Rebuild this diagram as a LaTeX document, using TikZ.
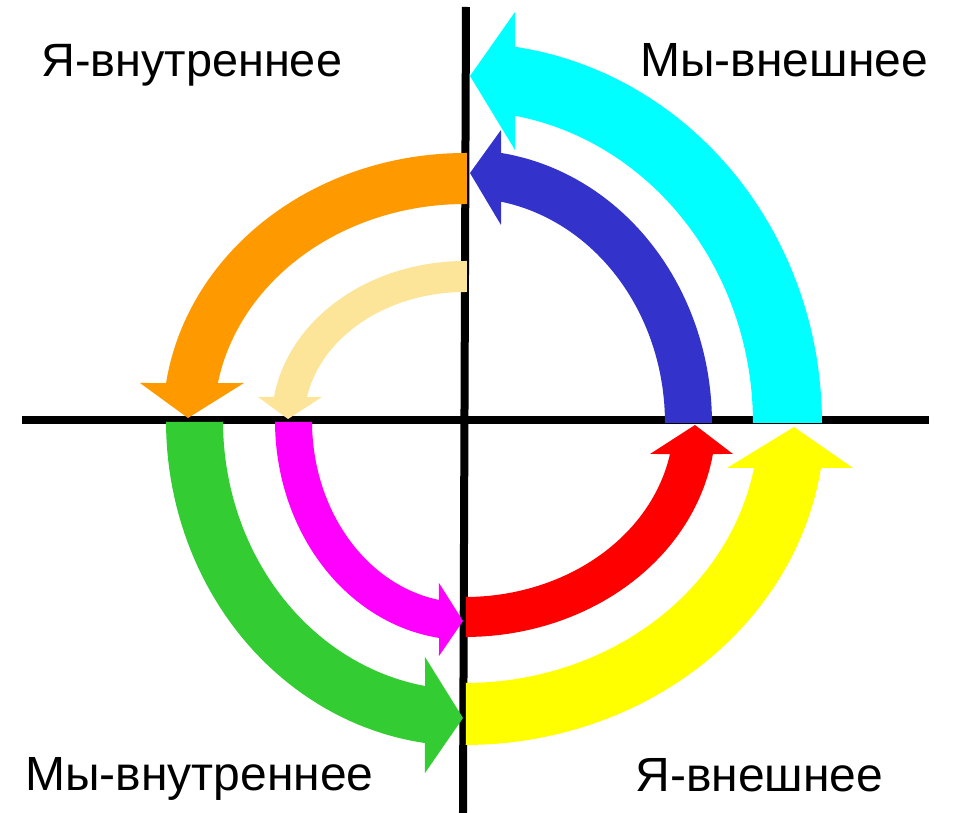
\documentclass[tikz,border=0pt]{standalone}
\usepackage{fontspec}
\setmainfont{Liberation Sans}
\definecolor{cyanc}{HTML}{00FFFF}
\definecolor{bluec}{HTML}{3333CC}
\definecolor{orangec}{HTML}{FF9900}
\definecolor{wheatc}{HTML}{FCE599}
\definecolor{greenc}{HTML}{33CC33}
\definecolor{magc}{HTML}{FF00FF}
\definecolor{redc}{HTML}{FF0000}
\definecolor{yellowc}{HTML}{FFFF00}
\begin{document}
\begin{tikzpicture}[x=0.5pt,y=0.5pt,
  axis/.style={line width=4pt, line cap=butt, black},
  band/.style={draw=none},
  lbl/.style={inner sep=0pt, anchor=base west, font=\fontsize{24}{28}\selectfont}]
\useasboundingbox (-465,-392) rectangle (489,421);
% axes
\coordinate (hl) at (-443,0.5);
\coordinate (hr) at (464,0.5);
\coordinate (vt) at (1,414);
\coordinate (vb) at (-2,-392);
\draw[axis] (hl) -- (hr);
\draw[axis] (vt) -- (vb);
% cyan (upper right, outer)
\fill[band, cyanc, yshift=-1pt] (357,0)
  -- plot[domain=0:81.95, samples=50, variable=\t] ({357*cos(\t)},{380*sin(\t)})
  -- (50,411) -- (5,347) -- (50,273)
  -- plot[domain=80:0, samples=50, variable=\t] ({288*cos(\t)},{312*sin(\t)}) -- cycle;
% blue (upper right, inner)
\fill[band, bluec, yshift=-1pt] (247,0)
  -- plot[domain=0:81.6, samples=50, variable=\t] ({247*cos(\t)},{273*sin(\t)})
  -- (36,293) -- (5,250) -- (36,198)
  -- plot[domain=79.6:0, samples=50, variable=\t] ({200*cos(\t)},{225*sin(\t)}) -- cycle;
% orange (upper left, outer)
\fill[band, orangec] (2,268)
  -- plot[domain=90:171.85, samples=50, variable=\t] ({302*cos(\t)},{268*sin(\t)})
  -- (-325,38) -- (-277,3) -- (-221,38)
  -- plot[domain=169.92:90, samples=50, variable=\t] ({251*cos(\t)},{217*sin(\t)})
  -- (2,217) -- cycle;
% wheat (upper left, inner)
\fill[band, wheatc] (2,160)
  -- plot[domain=90:171.37, samples=50, variable=\t] ({193.2*cos(\t)},{160*sin(\t)})
  -- (-207,24) -- (-177,2) -- (-143,24)
  -- plot[domain=169.28:90, samples=50, variable=\t] ({160.8*cos(\t)},{129*sin(\t)})
  -- (2,129) -- cycle;
% green (lower left, outer)
\fill[band, greenc] (-299,-1)
  -- plot[domain=180:262.31, samples=50, variable=\t] ({299*cos(\t)},{325*sin(\t)})
  -- (-40,-352) -- (-2,-297) -- (-40,-236)
  -- plot[domain=260.49:180, samples=50, variable=\t] ({242*cos(\t)},{268.7*sin(\t)})
  -- (-242,-1) -- cycle;
% magenta (lower left, inner)
\fill[band, magc] (-190,-1)
  -- plot[domain=180:262.14, samples=50, variable=\t] ({190*cos(\t)},{219*sin(\t)})
  -- (-26,-235) -- (-2,-200) -- (-26,-162)
  -- plot[domain=260.21:180, samples=50, variable=\t] ({153*cos(\t)},{181.6*sin(\t)})
  -- (-153,-1) -- cycle;
% red (lower right, inner)
\fill[band, redc] (1,-216)
  -- plot[domain=270:351.21, samples=50, variable=\t] ({250.9*cos(\t)},{216*sin(\t)})
  -- (268,-33) -- (230,-4) -- (185,-33)
  -- plot[domain=349.19:270, samples=50, variable=\t] ({208.7*cos(\t)},{176*sin(\t)})
  -- (1,-176) -- cycle;
% yellow (lower right, outer)
\fill[band, yellowc] (1,-324)
  -- plot[domain=270:351.66, samples=50, variable=\t] ({359.8*cos(\t)},{324*sin(\t)})
  -- (388,-47) -- (329,-6) -- (262,-47)
  -- plot[domain=349.67:270, samples=50, variable=\t] ({293.8*cos(\t)},{262*sin(\t)})
  -- (1,-262) -- cycle;
% labels
\node[lbl, font=\fontsize{23.4}{28}\selectfont] (yain) at (-424,344) {Я-внутреннее};
\node[lbl] (myex) at (175,344) {Мы-внешнее};
\node[lbl] (myin) at (-440,-370) {Мы-внутреннее};
\node[lbl] (yaex) at (170,-371) {Я-внешнее};
\end{tikzpicture}
\end{document}
